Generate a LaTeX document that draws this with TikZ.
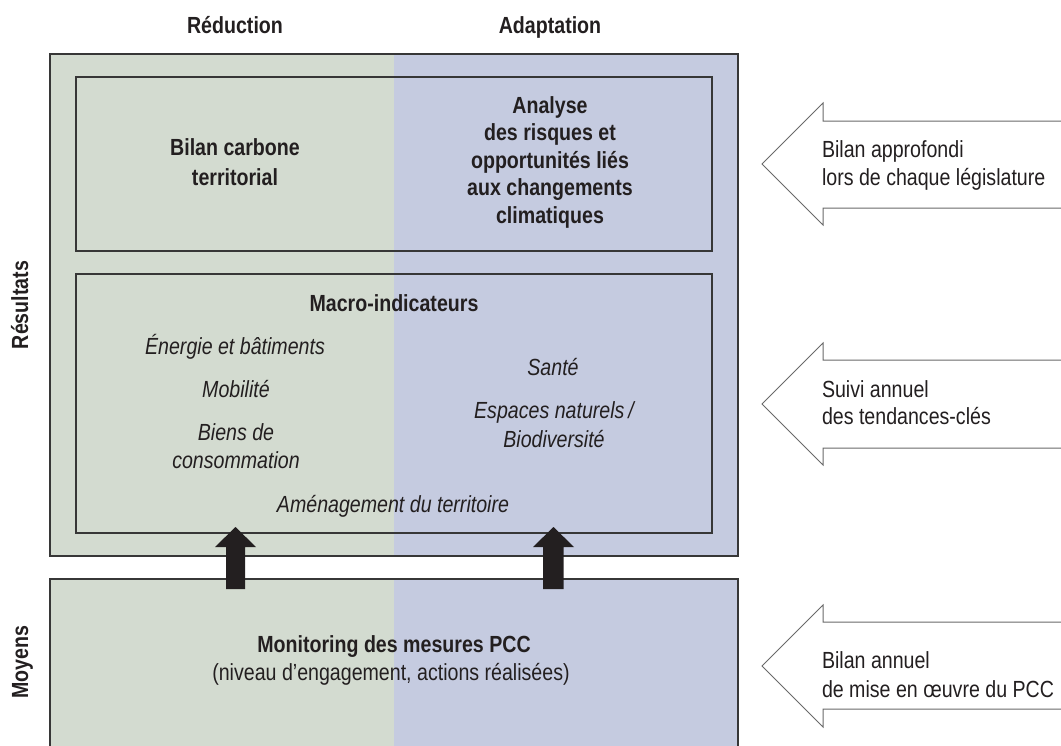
\documentclass[tikz,border=0pt]{standalone}
\usepackage{fontspec}
\setmainfont{Liberation Sans}[FakeStretch=0.84]
\usetikzlibrary{fit}
\definecolor{grn}{RGB}{211,219,208}
\definecolor{blu}{RGB}{197,203,224}
\definecolor{framecol}{RGB}{55,55,55}
\definecolor{arrcol}{RGB}{105,105,105}
\definecolor{blackarr}{RGB}{35,31,32}
\definecolor{txtcol}{RGB}{35,31,32}
\begin{document}
\begin{tikzpicture}[x=0.75pt,y=-0.75pt,
  every node/.style={inner sep=0pt, outer sep=0pt, text=txtcol,
    font=\fontsize{17.5}{21}\selectfont},
  lbl/.style={anchor=base},
  lblw/.style={anchor=base west},
  bld/.style={anchor=base, font=\fontsize{17.5}{21}\selectfont\bfseries},
  itl/.style={anchor=base, font=\fontsize{17.5}{21}\selectfont\itshape},
  frame/.style={draw=framecol, line width=1.1pt},
  boxnode/.style={frame, fit={#1}, inner sep=0pt},
  hollow/.style={draw=arrcol, line width=0.75pt, fill=white, line join=miter},
  blockup/.style={fill=blackarr, draw=none}]
\useasboundingbox (0,0) rectangle (1061,746);
% colour halves
\fill[grn] (50,54) rectangle (394,556);
\fill[blu] (394,54) rectangle (738,556);
\fill[grn] (50,579) rectangle (394,746);
\fill[blu] (394,579) rectangle (738,746);
% frames
\node[boxnode={(50,54)(738,556)}] (res) {};
\node[boxnode={(76,77)(712,251)}] (bilan) {};
\node[boxnode={(76,274)(712,533)}] (macro) {};
\draw[frame] (50,747) -- (50,579) -- (738,579) -- (738,747);
\coordinate (mon) at (394,579);
% column titles
\node[bld] (tred) at (235,33) {Réduction};
\node[bld] (tada) at (550,33) {Adaptation};
% side titles
\node[anchor=base, rotate=90, font=\fontsize{17.5}{21}\selectfont\bfseries] (tres) at (28,305) {Résultats};
\node[anchor=base, rotate=90, font=\fontsize{17.5}{21}\selectfont\bfseries] (tmoy) at (28,662) {Moyens};
% top inner box
\node[bld] (bc1) at (235,155) {Bilan carbone};
\node[bld] (bc2) at (235,185) {territorial};
\node[bld] (an1) at (550,113) {Analyse};
\node[bld] (an2) at (550,140) {des risques et};
\node[bld] (an3) at (550,168) {opportunités liés};
\node[bld] (an4) at (550,195) {aux changements};
\node[bld] (an5) at (550,223) {climatiques};
% macro box
\node[bld] (mi) at (394,311) {Macro-indicateurs};
\node[itl] (m1) at (235,354) {Énergie et bâtiments};
\node[itl] (m2) at (236,397) {Mobilité};
\node[itl] (m3) at (236,440) {Biens de};
\node[itl] (m4) at (236,468) {consommation};
\node[itl] (m5) at (553,375) {Santé};
\node[itl] (m6) at (554,418) {Espaces naturels\,/};
\node[itl] (m7) at (554,447) {Biodiversité};
\node[itl] (m8) at (393,512) {Aménagement du territoire};
% bottom box
\node[bld] (mo1) at (394,652) {Monitoring des mesures PCC};
\node[lbl] (mo2) at (391,680) {(niveau d’engagement, actions réalisées)};
% black up arrows
\coordinate (la) at (235.5,589);
\coordinate (ra) at (553,589);
\fill[blockup] (la) ++(-9.5,0) -- ++(0,-42) -- ++(-11,0) -- ++(20.5,-20) -- ++(20.5,20) -- ++(-11,0) -- ++(0,42) -- cycle;
\fill[blockup] (ra) ++(-10,0) -- ++(0,-42) -- ++(-10,0) -- ++(20.5,-20) -- ++(20.5,20) -- ++(-10.5,0) -- ++(0,42) -- cycle;
% hollow arrows on the right
\draw[hollow] (1062,121) -- (823,121) -- (823,103) -- (762,164) -- (823,225) -- (823,208) -- (1062,208);
\draw[hollow] (1062,360) -- (823,360) -- (823,343) -- (762,404) -- (823,465) -- (823,448) -- (1062,448);
\draw[hollow] (1062,622) -- (823,622) -- (823,605) -- (762,666) -- (823,727) -- (823,709) -- (1062,709);
\node[lblw] (a1) at (822,157) {Bilan approfondi};
\node[lblw] (a2) at (822,185) {lors de chaque législature};
\node[lblw] (b1) at (822,397) {Suivi annuel};
\node[lblw] (b2) at (822,424) {des tendances-clés};
\node[lblw] (c1) at (822,668) {Bilan annuel};
\node[lblw] (c2) at (822,697) {de mise en œuvre du PCC};
\end{tikzpicture}
\end{document}
